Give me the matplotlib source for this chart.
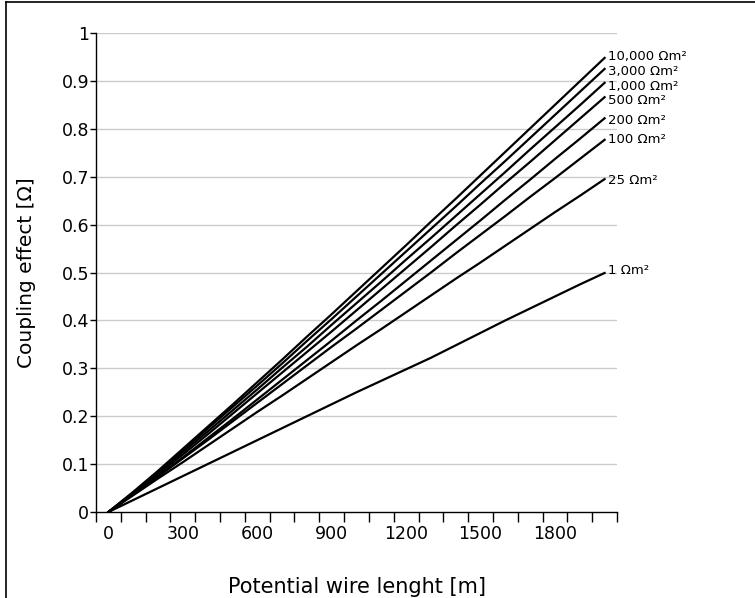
import numpy as np
import matplotlib
matplotlib.use('Agg')
from matplotlib import pyplot as plt
from matplotlib.lines import Line2D

plt.rcParams['font.family'] = ['DejaVu Sans']

# wire length categories [m]
lengths = list(range(0, 2001, 100))

# coupling effect [Ohm] per soil resistivity
res_10000 = [0, .042, .086, .132, .178, .224, .271, .318, .366, .413, .461, .509, .557, .606, .654, .703, .752, .801, .850, .899, .948]
res_3000 = [0, .041, .084, .129, .174, .219, .264, .310, .357, .403, .450, .497, .544, .591, .638, .686, .733, .781, .829, .877, .925]
res_1000 = [0, .040, .082, .125, .168, .212, .256, .301, .345, .391, .436, .481, .527, .572, .618, .664, .710, .757, .803, .849, .896]
res_500 = [0, .038, .079, .120, .162, .205, .248, .291, .334, .377, .421, .465, .509, .553, .598, .642, .687, .731, .776, .821, .866]
res_200 = [0, .037, .075, .114, .154, .194, .235, .276, .317, .358, .400, .441, .483, .525, .567, .609, .652, .694, .737, .779, .822]
res_100 = [0, .037, .074, .112, .150, .189, .228, .267, .306, .345, .383, .422, .461, .500, .540, .579, .618, .658, .697, .737, .777]
res_25 = [0, .035, .070, .104, .139, .174, .209, .243, .278, .313, .348, .382, .417, .452, .487, .521, .556, .591, .626, .660, .695]
res_1 = [0, .025, .050, .075, .100, .125, .150, .175, .200, .225, .250, .274, .298, .322, .348, .374, .400, .425, .450, .475, .499]

series = [res_10000, res_3000, res_1000, res_500, res_200, res_100, res_25, res_1]
names = ['10,000 Ωm²', '3,000 Ωm²', '1,000 Ωm²', '500 Ωm²', '200 Ωm²', '100 Ωm²', '25 Ωm²', '1 Ωm²']
label_y = [0.950, 0.919, 0.889, 0.860, 0.818, 0.777, 0.693, 0.505]

x_labels = [0, 300, 600, 900, 1200, 1500, 1800]
y_ticks = np.round(np.arange(0, 1.01, 0.1), 1)

fig = plt.figure(figsize=(7.55, 5.98), dpi=100)
ax = fig.add_axes([0.1272, 0.1438, 0.690, 0.8010])

for yv in y_ticks[1:]:
    ax.axhline(yv, color='#cccccc', lw=1.0, zorder=1)

for vals, name, ly in zip(series, names, label_y):
    ax.plot(lengths, vals, color='black', lw=1.6, zorder=3)
    ax.text(2012, ly, name, fontsize=9.5, va='center', ha='left', clip_on=False)

ax.set_xlim(-50, 2050)
ax.set_ylim(0, 1)
ax.set_xticks(x_labels)
ax.set_xticklabels([str(v) for v in x_labels])
ax.set_xticks(np.arange(-50, 2051, 100), minor=True)
ax.tick_params(axis='x', which='major', length=0, pad=9, labelsize=12.5)
ax.tick_params(axis='x', which='minor', length=7, width=1, direction='out')
ax.set_yticks(y_ticks)
ax.set_yticklabels(['0'] + [f'{v:.1f}' for v in y_ticks[1:-1]] + ['1'])
ax.tick_params(axis='y', length=4, width=1, pad=1, labelsize=12.5)

for side in ['top', 'right']:
    ax.spines[side].set_visible(False)
ax.spines['left'].set_linewidth(1.0)
ax.spines['bottom'].set_linewidth(1.0)

ax.set_xlabel('Potential wire lenght [m]', fontsize=15, labelpad=25)
ax.set_ylabel('Coupling effect [Ω]', fontsize=14.5, labelpad=18)

# outer frame (top and left edge only)
fig.add_artist(Line2D([6 / 755, 6 / 755], [0, 1 - 2 / 598], transform=fig.transFigure, color='black', lw=1.2))
fig.add_artist(Line2D([6 / 755, 1], [1 - 2 / 598, 1 - 2 / 598], transform=fig.transFigure, color='black', lw=1.2))

fig.savefig('out.png', dpi=100)
